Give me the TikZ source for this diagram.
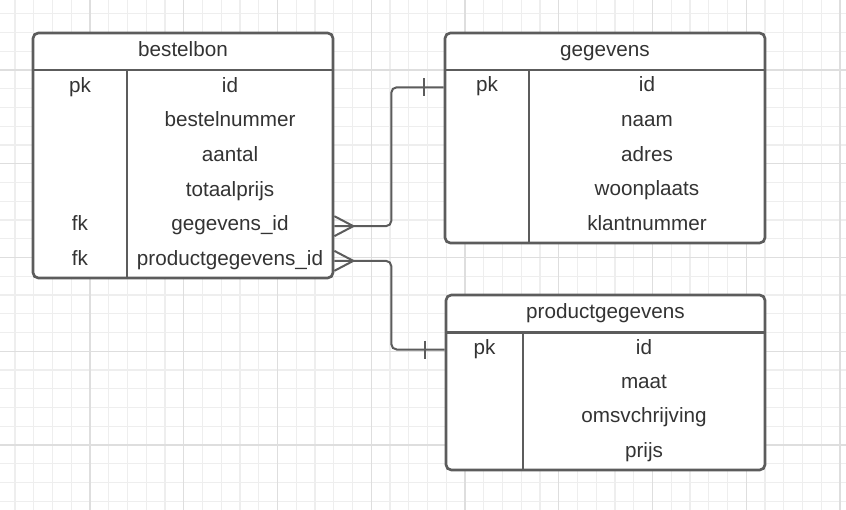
\documentclass[tikz,border=0pt]{standalone}
\usepackage{fontspec}
\setmainfont{Liberation Sans}
\usepackage{tikz}
\usetikzlibrary{positioning, fit, calc}
\definecolor{linecolor}{RGB}{92, 92, 92}
\definecolor{textcolor}{RGB}{51, 51, 51}
\definecolor{gridminor}{RGB}{238, 238, 238}
\definecolor{gridmajor}{RGB}{222, 222, 222}

\begin{document}
\begin{tikzpicture}[x=0.75pt, y=-0.75pt,
    entity/.style={draw=linecolor, line width=2pt, fill=white, rounded corners=4pt, inner sep=0pt},
    divider/.style={draw=linecolor, line width=2pt},
    celltext/.style={font=\fontsize{15.5}{18}\selectfont, text=textcolor, text height=10pt, text depth=3pt, inner sep=0pt},
    relation/.style={draw=linecolor, line width=1.5pt, rounded corners=4pt},
    foot/.style={draw=linecolor, line width=1.5pt}]

    % Background grid
    \useasboundingbox (0,0) rectangle (846,510);
    \fill[white] (0,0) rectangle (846,510);
    \foreach \x in {15,33.75,...,846} \draw[gridminor, line width=0.8pt] (\x,0) -- (\x,510);
    \foreach \y in {13.75,32.5,...,510} \draw[gridminor, line width=0.8pt] (0,\y) -- (846,\y);
    \foreach \x in {90,183.75,...,846} \draw[gridmajor, line width=0.9pt] (\x,0) -- (\x,510);
    \foreach \y in {70,163.75,...,510} \draw[gridmajor, line width=0.9pt] (0,\y) -- (846,\y);

    % Table bestelbon
    \node[entity, fit={(33,33) (333,278)}] (bestelbon) {};
    \draw[divider] (33,70) -- (333,70);
    \draw[divider] (127,70) -- (127,278);
    \node[celltext] (bestelbon-title) at (183,51.5) {bestelbon};
    \foreach \key/\field/\name [count=\i] in {pk/id/id, /bestelnummer/nr, /aantal/aantal, /totaalprijs/prijs, fk/gegevens\_id/gid, fk/productgegevens\_id/pgid} {
        \node[celltext] (bestelbon-key\i) at (80, {70+(\i-0.5)*34.7}) {\key};
        \node[celltext] (bestelbon-\name) at (230, {70+(\i-0.5)*34.7}) {\field};
    }

    % Table gegevens
    \node[entity, fit={(445,33) (765,243)}] (gegevens) {};
    \draw[divider] (445,70) -- (765,70);
    \draw[divider] (529,70) -- (529,243);
    \node[celltext] (gegevens-title) at (605,51.5) {gegevens};
    \foreach \key/\field/\name [count=\i] in {pk/id/id, /naam/naam, /adres/adres, /woonplaats/plaats, /klantnummer/klant} {
        \node[celltext] (gegevens-key\i) at (487, {70+(\i-0.5)*34.6}) {\key};
        \node[celltext] (gegevens-\name) at (647, {70+(\i-0.5)*34.6}) {\field};
    }

    % Table productgegevens
    \node[entity, fit={(446,295) (765,470)}] (productgegevens) {};
    \draw[divider] (446,332.3) -- (765,332.3);
    \draw[divider] (523,332.3) -- (523,470);
    \node[celltext] (productgegevens-title) at (605.5,313.7) {productgegevens};
    \foreach \key/\field/\name [count=\i] in {pk/id/id, /maat/maat, /omsvchrijving/omschr, /prijs/prijs} {
        \node[celltext] (productgegevens-key\i) at (484.5, {332.3+(\i-0.5)*34.4}) {\key};
        \node[celltext] (productgegevens-\name) at (644, {332.3+(\i-0.5)*34.4}) {\field};
    }

    % Relation ends
    \coordinate (gid-end) at (bestelbon-gid -| bestelbon.east);
    \coordinate (pgid-end) at (bestelbon-pgid -| bestelbon.east);
    \coordinate (gegevens-end) at (gegevens-id -| gegevens.west);
    \coordinate (product-end) at (productgegevens-id -| productgegevens.west);

    % bestelbon -> gegevens
    \draw[relation] (gid-end) -- ++(57,0) |- (gegevens-end);
    \draw[foot] ($(gid-end)+(0,-10)$) -- ($(gid-end)+(19,0)$) -- ($(gid-end)+(0,10)$);
    \draw[foot] ($(gegevens-end)+(-20,-9)$) -- ($(gegevens-end)+(-20,9)$);

    % bestelbon -> productgegevens
    \draw[relation] (pgid-end) -- ++(57,0) |- (product-end);
    \draw[foot] ($(pgid-end)+(0,-10)$) -- ($(pgid-end)+(19,0)$) -- ($(pgid-end)+(0,10)$);
    \draw[foot] ($(product-end)+(-20,-9)$) -- ($(product-end)+(-20,9)$);

\end{tikzpicture}
\end{document}
